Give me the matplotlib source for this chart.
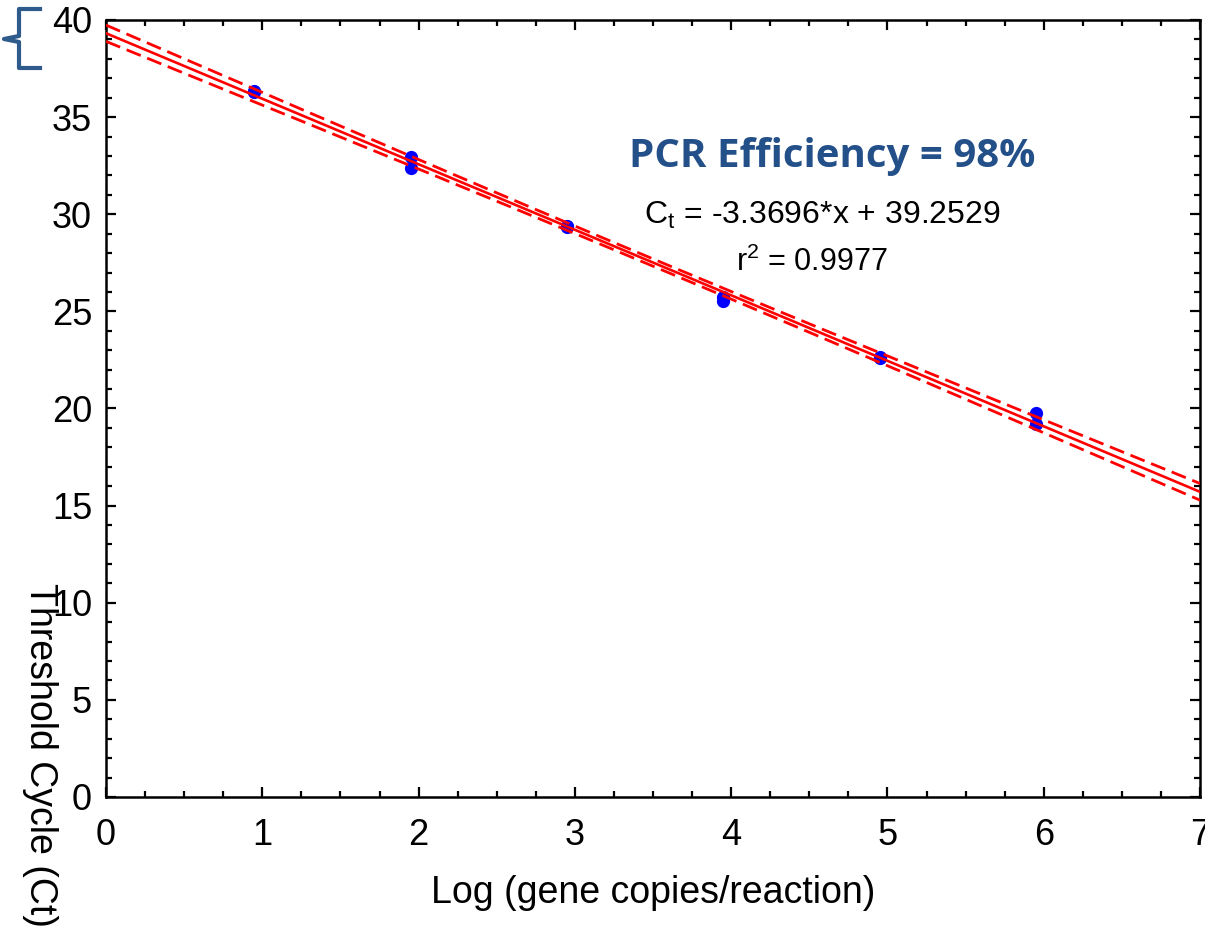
import numpy as np
import matplotlib
matplotlib.use("Agg")
import matplotlib.pyplot as plt
from matplotlib.ticker import MultipleLocator
from matplotlib.lines import Line2D

# Data
log_copies = [0.95, 0.95, 1.95, 1.95, 2.95, 2.95, 3.95, 3.95, 4.95, 4.95, 5.95, 5.95]
ct_values = [36.34, 36.30, 32.95, 32.38, 29.40, 29.36, 25.72, 25.52, 22.66, 22.60, 19.77, 19.20]
x_ticks = [0, 1, 2, 3, 4, 5, 6, 7]
y_ticks = [0, 5, 10, 15, 20, 25, 30, 35, 40]
title_text = "PCR Efficiency = 98%"
eq_text = r"C$_\mathregular{t}$ = -3.3696*x + 39.2529"
r2_text = r"r$^\mathregular{2}$ = 0.9977"
xlabel = "Log (gene copies/reaction)"
ylabel = "Threshold Cycle (Ct)"

plt.rcParams['font.family'] = ['Liberation Sans', 'DejaVu Sans']
plt.rcParams['mathtext.fontset'] = 'custom'
plt.rcParams['mathtext.rm'] = 'Liberation Sans'

W, H = 1205, 927
fig = plt.figure(figsize=(W / 100, H / 100), dpi=100)
ax = fig.add_axes([106 / W, 1 - 797 / H, (1200 - 106) / W, (797 - 20) / H])

x = np.array(log_copies)
y = np.array(ct_values)
slope, intercept = np.polyfit(x, y, 1)
n = len(x)
resid = y - (slope * x + intercept)
s = np.sqrt(np.sum(resid ** 2) / (n - 2))
sxx = np.sum((x - x.mean()) ** 2)
t_crit = 2.228  # t(0.975, df=10)

xs = np.linspace(0, 7, 200)
fit = slope * xs + intercept
half = t_crit * s * np.sqrt(1 / n + (xs - x.mean()) ** 2 / sxx)

red = '#ff0000'
ax.plot(xs, fit, color=red, lw=1.9, zorder=3)
ax.plot(xs, fit + half, color=red, lw=2.0, ls=(0, (5.5, 2.5)), zorder=3)
ax.plot(xs, fit - half, color=red, lw=2.0, ls=(0, (5.5, 2.5)), zorder=3)
ax.plot(x, y, 'o', color='#0000ff', ms=8.5, mec='#0000ff', zorder=2)

ax.set_xlim(0, 7)
ax.set_ylim(0, 40)
ax.set_xticks(x_ticks)
ax.set_yticks(y_ticks)
ax.xaxis.set_minor_locator(MultipleLocator(0.25))
ax.yaxis.set_minor_locator(MultipleLocator(1))
ax.tick_params(which='both', direction='in', top=True, right=True, width=1.6,
               labelsize=26, color='black', labelcolor='black')
ax.tick_params(which='major', length=7)
ax.tick_params(which='minor', length=4)
ax.tick_params(axis='x', which='major', pad=15)
ax.tick_params(axis='y', which='major', pad=10)
for sp in ax.spines.values():
    sp.set_linewidth(1.8)
    sp.set_color('black')

ax.set_xlabel(xlabel, fontsize=27, labelpad=16)

fig.text(40 / W, 1 - 583 / H, ylabel, rotation=270, ha='center', va='top', fontsize=27)

fig.text(832 / W, 1 - 157 / H, title_text, ha='center', va='center', fontsize=29,
         fontweight='bold', color='#24508a', family=['Open Sans', 'DejaVu Sans'])
fig.text(822 / W, 1 - 215 / H, eq_text, ha='center', va='center', fontsize=23)
fig.text(812 / W, 1 - 262 / H, r2_text, ha='center', va='center', fontsize=22)

# decorative brace at top-left
bx = [40, 19, 19, 4, 19, 19, 40]
by = [9, 9, 36, 39, 42, 68, 68]
fig.add_artist(Line2D([v / W for v in bx], [1 - v / H for v in by], color='#2e5a8c',
                      lw=3.0, solid_joinstyle='round', transform=fig.transFigure))

fig.savefig('out.png', dpi=100)
